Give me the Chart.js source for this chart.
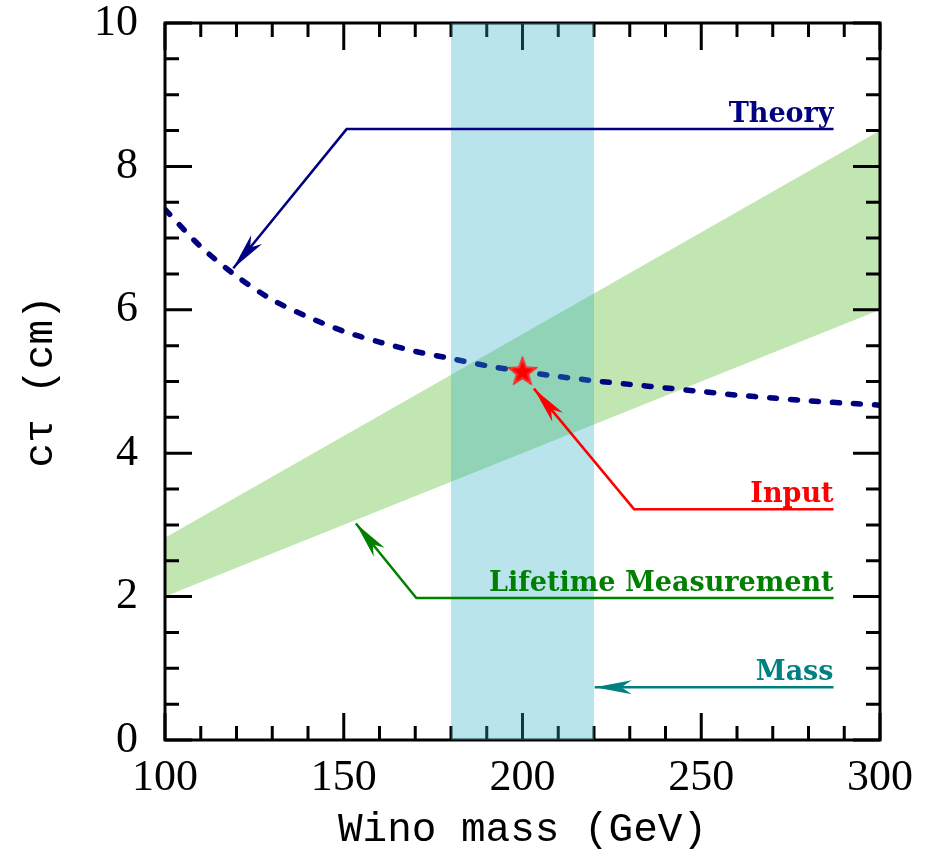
<!DOCTYPE html>
<html lang="en">
<head>
    <meta charset="UTF-8">
    <title>Wino lifetime</title>
    <style>
        body {
            margin: 0;
            background: white;
        }

        #chart {
            display: block;
        }
    </style>
</head>
<body>
    <canvas id="chart" width="937" height="858"></canvas>

<script src="https://cdn.jsdelivr.net/npm/chart.js@4"></script>
<script type="text/javascript">
    // theory curve
    var theoryMass = [100, 110, 120, 130, 140, 150, 160, 170, 180, 190, 200, 210, 220, 230, 240, 250, 260, 270, 280, 290, 300];
    var theoryCtau = [7.40, 6.88, 6.47, 6.14, 5.90, 5.70, 5.55, 5.42, 5.32, 5.22, 5.14, 5.07, 5.01, 4.96, 4.91, 4.86, 4.81, 4.77, 4.73, 4.70, 4.67];

    // lifetime measurement band (edges)
    var bandMass = [100, 300];
    var bandLow = [2.0, 6.0];
    var bandHigh = [2.82, 8.5];

    // mass measurement band
    var massRange = [180, 220];
    var ctauTop = 10;

    // input point
    var inputPoint = [200, 5.13];

    // axis ranges
    var xRange = [100, 300];
    var yRange = [0, 10];

    // annotation paths: label end first, arrow tip last
    var theoryArrow = [[287, 8.52], [150.8, 8.52], [119.1, 6.58]];
    var inputArrow = [[287, 3.22], [231.2, 3.22], [203.2, 4.90]];
    var lifetimeArrow = [[287, 1.98], [170.3, 1.98], [153.4, 3.02]];
    var massArrow = [[287, 0.735], [220.2, 0.735]];

    var notes = [
        { text: 'Theory', color: '#000080', path: theoryArrow },
        { text: 'Input', color: '#ff0000', path: inputArrow },
        { text: 'Lifetime Measurement', color: '#007f00', path: lifetimeArrow },
        { text: 'Mass', color: '#008080', path: massArrow }
    ];

    function pts(xs, ys) {
        return xs.map(function(x, i) { return { x: x, y: ys[i] }; });
    }

    function makeStar() {
        var c = document.createElement('canvas');
        c.width = 36;
        c.height = 36;
        var g = c.getContext('2d');
        function path(r) {
            g.beginPath();
            for (var i = 0; i < 10; i++) {
                var rr = i % 2 === 0 ? r : r * 0.42;
                var a = -Math.PI / 2 + i * Math.PI / 5;
                g.lineTo(18 + rr * Math.cos(a), 18 + rr * Math.sin(a));
            }
            g.closePath();
        }
        path(16.5);
        g.fillStyle = '#ff0000';
        g.fill();
        path(13);
        g.strokeStyle = 'rgba(255,150,150,0.6)';
        g.lineWidth = 0.8;
        g.stroke();
        return c;
    }

    function arrowHead(ctx, tip, from, len, half) {
        var dx = from.x - tip.x, dy = from.y - tip.y;
        var d = Math.sqrt(dx * dx + dy * dy);
        var ux = dx / d, uy = dy / d;
        var nx = -uy, ny = ux;
        ctx.beginPath();
        ctx.moveTo(tip.x, tip.y);
        ctx.lineTo(tip.x + ux * len + nx * half, tip.y + uy * len + ny * half);
        ctx.lineTo(tip.x + ux * len * 0.72, tip.y + uy * len * 0.72);
        ctx.lineTo(tip.x + ux * len - nx * half, tip.y + uy * len - ny * half);
        ctx.closePath();
        ctx.fill();
    }

    var frameTicks = {
        id: 'frameTicks',
        afterDatasetDraw: function(chart, args) {
            if (chart.data.datasets[args.index].label !== 'Theory') return;
            var ctx = chart.ctx, a = chart.chartArea;
            var x = chart.scales.x, y = chart.scales.y;
            ctx.save();
            ctx.strokeStyle = '#000';
            ctx.lineWidth = 3;
            ctx.beginPath();
            x.ticks.forEach(function(t) {
                var px = x.getPixelForValue(t.value);
                var len = t.value % 50 === 0 ? 27 : 14;
                ctx.moveTo(px, a.bottom);
                ctx.lineTo(px, a.bottom - len);
                ctx.moveTo(px, a.top);
                ctx.lineTo(px, a.top + len);
            });
            y.ticks.forEach(function(t) {
                var py = y.getPixelForValue(t.value);
                var len = t.value % 2 === 0 ? 27 : 14;
                ctx.moveTo(a.left, py);
                ctx.lineTo(a.left + len, py);
                ctx.moveTo(a.right, py);
                ctx.lineTo(a.right - len, py);
            });
            ctx.stroke();
            ctx.strokeRect(a.left, a.top, a.right - a.left, a.bottom - a.top);
            ctx.restore();
        }
    };

    var annotations = {
        id: 'annotations',
        afterDraw: function(chart) {
            var ctx = chart.ctx;
            var x = chart.scales.x, y = chart.scales.y;
            ctx.save();
            notes.forEach(function(n) {
                var p = n.path.map(function(v) {
                    return { x: x.getPixelForValue(v[0]), y: y.getPixelForValue(v[1]) };
                });
                ctx.strokeStyle = n.color;
                ctx.fillStyle = n.color;
                ctx.lineWidth = 2.5;
                ctx.beginPath();
                p.forEach(function(q, i) {
                    if (i === 0) ctx.moveTo(q.x, q.y);
                    else ctx.lineTo(q.x, q.y);
                });
                ctx.stroke();
                var last = p.length - 1;
                arrowHead(ctx, p[last], p[last - 1], 37, 7);

                ctx.font = 'bold 27px "DejaVu Serif"';
                ctx.textAlign = 'right';
                ctx.textBaseline = 'alphabetic';
                ctx.fillText(n.text, p[0].x, p[0].y - 7);
            });
            ctx.restore();
        }
    };

    initChart();

    function initChart() {
        var ctx = document.getElementById('chart').getContext('2d');
        var chart = new Chart(ctx, {
            type: 'line',
            data: {
                datasets: [{
                    label: 'band low',
                    data: pts(bandMass, bandLow),
                    borderWidth: 0,
                    pointRadius: 0,
                    fill: false,
                    order: 6
                }, {
                    label: 'Lifetime Measurement',
                    data: pts(bandMass, bandHigh),
                    borderWidth: 0,
                    pointRadius: 0,
                    backgroundColor: '#c2e6b1',
                    fill: '-1',
                    order: 5
                }, {
                    label: 'Theory',
                    data: pts(theoryMass, theoryCtau),
                    borderColor: '#000080',
                    borderWidth: 5.5,
                    borderDash: [7, 14],
                    borderCapStyle: 'round',
                    tension: 0.3,
                    pointRadius: 0,
                    fill: false,
                    order: 4
                }, {
                    label: 'Mass',
                    data: pts(massRange, [ctauTop, ctauTop]),
                    borderWidth: 0,
                    pointRadius: 0,
                    backgroundColor: 'rgba(43,173,197,0.33)',
                    fill: 'origin',
                    order: 2
                }, {
                    label: 'Input',
                    data: [{ x: inputPoint[0], y: inputPoint[1] }],
                    showLine: false,
                    pointStyle: makeStar(),
                    pointRadius: 18,
                    order: 1
                }]
            },
            options: {
                responsive: false,
                animation: false,
                devicePixelRatio: 1,
                layout: { padding: { top: 23, right: 57, left: 0, bottom: 0 } },
                plugins: {
                    legend: { display: false },
                    tooltip: { enabled: false }
                },
                scales: {
                    x: {
                        type: 'linear',
                        min: xRange[0],
                        max: xRange[1],
                        afterFit: function(s) {
                            s.height = 118;
                            s.paddingLeft = 0;
                            s.paddingRight = 0;
                        },
                        grid: { display: false, drawTicks: false },
                        border: { display: false },
                        ticks: {
                            stepSize: 10,
                            autoSkip: false,
                            maxRotation: 0,
                            padding: 12,
                            color: '#000',
                            font: { family: '"Liberation Serif"', size: 44 },
                            callback: function(v) { return v % 50 === 0 ? v : ''; }
                        },
                        title: {
                            display: true,
                            text: 'Wino mass (GeV)',
                            color: '#000',
                            font: { family: '"Liberation Mono"', size: 41 },
                            padding: { top: 0, bottom: 3 }
                        }
                    },
                    y: {
                        type: 'linear',
                        min: yRange[0],
                        max: yRange[1],
                        afterFit: function(s) {
                            s.width = 165;
                            s.paddingTop = 0;
                            s.paddingBottom = 0;
                        },
                        grid: { display: false, drawTicks: false },
                        border: { display: false },
                        ticks: {
                            stepSize: 0.5,
                            autoSkip: false,
                            padding: 27,
                            color: '#000',
                            font: { family: '"Liberation Serif"', size: 44 },
                            callback: function(v) { return v % 2 === 0 ? v : ''; }
                        },
                        title: {
                            display: true,
                            text: 'cτ (cm)',
                            color: '#000',
                            font: { family: '"Liberation Mono"', size: 41 },
                            padding: { top: 17, bottom: 0 }
                        }
                    }
                }
            },
            plugins: [frameTicks, annotations]
        });
    }
</script>
</body>
</html>
